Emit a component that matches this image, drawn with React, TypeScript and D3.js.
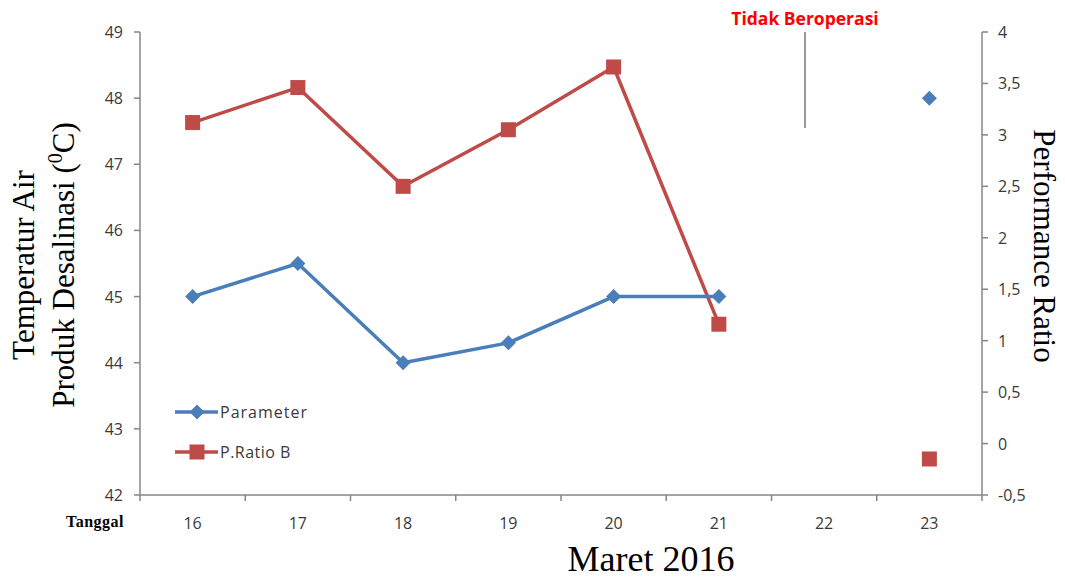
import React from "react";
import * as d3 from "d3";

const categories = ["16", "17", "18", "19", "20", "21", "22", "23"];
const parameterValues: (number | null)[] = [45, 45.5, 44, 44.3, 45, 45, null, 48];
const ratioValues: (number | null)[] = [3.12, 3.46, 2.5, 3.05, 3.66, 1.16, null, -0.15];
const leftTicks = [42, 43, 44, 45, 46, 47, 48, 49];
const rightTicks = [-0.5, 0, 0.5, 1, 1.5, 2, 2.5, 3, 3.5, 4];

const W = 1065, H = 579;
const X0 = 140, X1 = 982, Y0 = 32, Y1 = 495;
const BLUE = "#4a7ebb", RED = "#be4b48", AXIS = "#868686", LBL = "#3a3a3a";
const SANS = "'Open Sans', 'DejaVu Sans', sans-serif";
const SERIF = "'Liberation Serif', 'Times New Roman', serif";

export default function App() {
  const x = d3.scaleBand<string>().domain(categories).range([X0, X1]);
  const yL = d3.scaleLinear().domain([42, 49]).range([Y1, Y0]);
  const yR = d3.scaleLinear().domain([-0.5, 4]).range([Y1, Y0]);
  const cx = (c: string) => (x(c) as number) + x.bandwidth() / 2;

  const lineL = d3.line<number | null>()
    .defined((d) => d !== null)
    .x((_, i) => cx(categories[i]))
    .y((d) => yL(d as number));
  const lineR = d3.line<number | null>()
    .defined((d) => d !== null)
    .x((_, i) => cx(categories[i]))
    .y((d) => yR(d as number));

  const diamond = (px: number, py: number, r = 7.5) =>
    `M${px},${py - r}L${px + r},${py}L${px},${py + r}L${px - r},${py}Z`;

  const bounds = categories.map((c) => x(c) as number).concat([X1]);

  return (
    <svg width={W} height={H} style={{ position: "absolute", left: 0, top: 0, background: "#fff" }}>
      <rect width={W} height={H} fill="#fff" />
      {/* axes */}
      <line x1={X0} y1={Y0} x2={X0} y2={Y1} stroke={AXIS} strokeWidth={1.5} />
      <line x1={X1} y1={Y0} x2={X1} y2={Y1} stroke={AXIS} strokeWidth={1.5} />
      <line x1={X0} y1={Y1} x2={X1} y2={Y1} stroke={AXIS} strokeWidth={1.5} />
      {leftTicks.map((t) => (
        <g key={"l" + t}>
          <line x1={X0 - 6} x2={X0} y1={yL(t)} y2={yL(t)} stroke={AXIS} strokeWidth={1.5} />
          <text x={X0 - 17} y={yL(t)} textAnchor="end" dominantBaseline="central" fontFamily={SANS} fontSize={16} fill={LBL}>{t}</text>
        </g>
      ))}
      {rightTicks.map((t) => (
        <g key={"r" + t}>
          <line x1={X1} x2={X1 + 6} y1={yR(t)} y2={yR(t)} stroke={AXIS} strokeWidth={1.5} />
          <text x={X1 + 16} y={yR(t)} textAnchor="start" dominantBaseline="central" fontFamily={SANS} fontSize={16} fill={LBL}>{String(t).replace(".", ",")}</text>
        </g>
      ))}
      {bounds.map((b, i) => (
        <line key={"b" + i} x1={b} x2={b} y1={Y1} y2={Y1 + 6} stroke={AXIS} strokeWidth={1.5} />
      ))}
      {categories.map((c) => (
        <text key={"c" + c} x={cx(c)} y={Y1 + 28} textAnchor="middle" dominantBaseline="central" fontFamily={SANS} fontSize={16} fill={LBL}>{c}</text>
      ))}
      {/* series */}
      <path d={lineR(ratioValues) || ""} fill="none" stroke={RED} strokeWidth={3.5} strokeLinejoin="round" />
      {ratioValues.map((v, i) => v === null ? null : (
        <rect key={"rm" + i} x={cx(categories[i]) - 7.5} y={yR(v) - 7.5} width={15} height={15} fill={RED} />
      ))}
      <path d={lineL(parameterValues) || ""} fill="none" stroke={BLUE} strokeWidth={3.5} strokeLinejoin="round" />
      {parameterValues.map((v, i) => v === null ? null : (
        <path key={"pm" + i} d={diamond(cx(categories[i]), yL(v))} fill={BLUE} />
      ))}
      {/* legend */}
      <line x1={175} x2={218} y1={412} y2={412} stroke={BLUE} strokeWidth={3.5} />
      <path d={diamond(197, 412)} fill={BLUE} />
      <text x={220} y={412} dominantBaseline="central" fontFamily={SANS} fontSize={16} letterSpacing={1} fill={LBL}>Parameter</text>
      <line x1={175} x2={218} y1={452} y2={452} stroke={RED} strokeWidth={3.5} />
      <rect x={189.5} y={444.5} width={15} height={15} fill={RED} />
      <text x={220} y={452} dominantBaseline="central" fontFamily={SANS} fontSize={16} letterSpacing={0.5} fill={LBL}>P.Ratio B</text>
      {/* annotation */}
      <text x={805} y={18} textAnchor="middle" dominantBaseline="central" fontFamily={SANS} fontWeight="bold" fontSize={17.5} fill="#ff0000">Tidak Beroperasi</text>
      <line x1={805} x2={805} y1={32} y2={128} stroke="#333" strokeWidth={1} />
      {/* titles */}
      <text transform="translate(34,265) rotate(-90)" textAnchor="middle" fontFamily={SERIF} fontSize={31} fill="#000">Temperatur Air</text>
      <text transform="translate(74,265) rotate(-90)" textAnchor="middle" fontFamily={SERIF} fontSize={31} fill="#000">
        Produk Desalinasi (<tspan fontSize={20} dy={-12}>0</tspan><tspan dy={12}>C)</tspan>
      </text>
      <text transform="translate(1034,246) rotate(90)" textAnchor="middle" fontFamily={SERIF} fontSize={31} fill="#000">Performance Ratio</text>
      <text x={651} y={571} textAnchor="middle" fontFamily={SERIF} fontSize={36} fill="#000">Maret 2016</text>
      <text x={66} y={527} fontFamily={SERIF} fontWeight="bold" fontSize={16} letterSpacing={0.5} fill="#000">Tanggal</text>
    </svg>
  );
}
